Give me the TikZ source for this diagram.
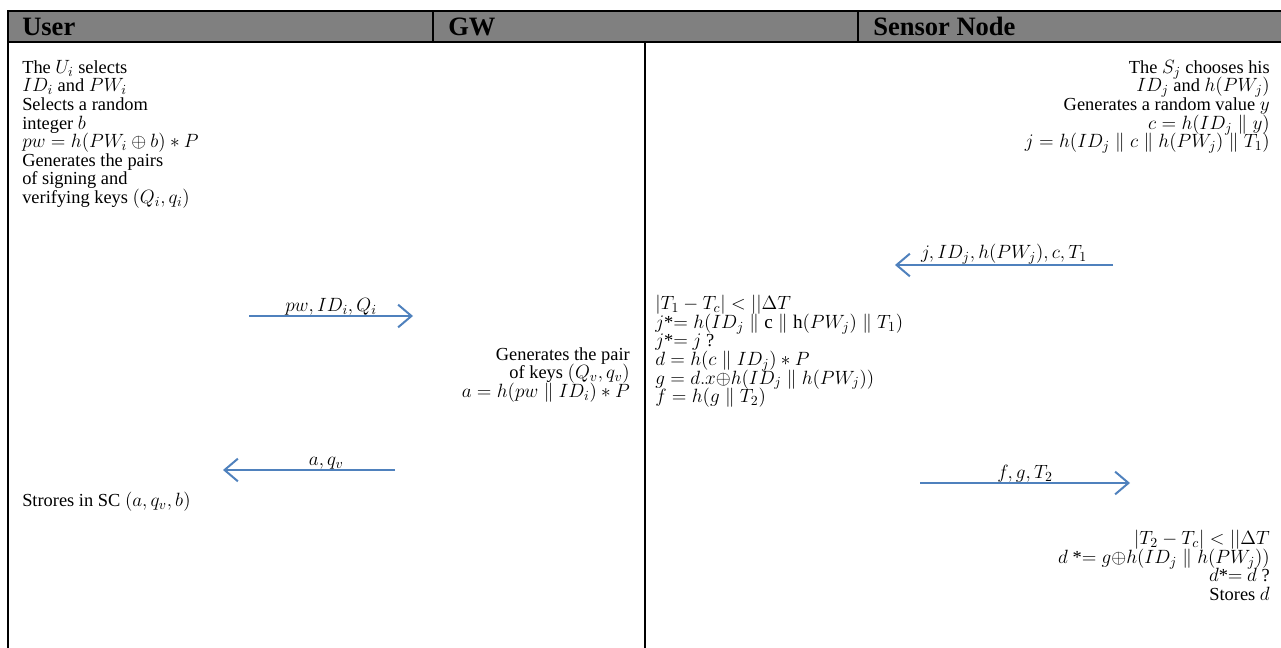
\RequirePackage{fix-cm}
\documentclass[tikz,border=0pt]{standalone}
\usepackage{amsmath}
\usepackage{fontspec}
\setmainfont{Liberation Serif}
\usetikzlibrary{arrows.meta}
\definecolor{msgblue}{HTML}{4F81BD}
\definecolor{headgray}{HTML}{808080}
\DeclareMathSizes{13.8}{14.4}{10.4}{8.2}
\newcommand\fixedlines{\lineskiplimit=-100pt\relax\lineskip=0pt\relax}

\begin{document}
\begin{tikzpicture}[x=0.75pt, y=-0.75pt,
      rule/.style={line width=1.2pt},
      head/.style={font=\fontsize{19.9}{22}\selectfont\bfseries,
          anchor=base west, inner sep=0pt},
      txt/.style={font=\fontsize{13.8}{13.95}\selectfont\fixedlines,
          inner sep=0pt},
      msg/.style={-{Straight Barb[length=10pt,width=17pt]},
          line width=1.5pt, draw=msgblue},
      lbl/.style={font=\fontsize{13.8}{13.95}\selectfont, inner sep=0pt},
    ]
    \useasboundingbox (0,0) rectangle (1281,648);

    %% --- Table frame ---
    \fill[headgray] (8,11) rectangle (1281,42);
    \draw[rule] (1281,11) -- (8,11) -- (8,648);
    \draw[rule] (8,42) -- (1281,42);
    \draw[rule] (433,11) -- (433,42);
    \draw[rule] (858,11) -- (858,42);
    \draw[rule] (645,42) -- (645,648);

    \node[head] (huser)   at (22,36)  {User};
    \node[head] (hgw)     at (448,36) {GW};
    \node[head] (hsensor) at (873,36) {Sensor Node};

    %% --- User side ---
    \node[txt, anchor=north west, align=left] (userreg) at (22,60)
    {The $U_i$ selects\\
      $ID_i$ and $PW_i$\\
      Selects a random\\
      integer $b$\\
      $pw = h(PW_i \oplus b) * P$\\
      Generates the pairs\\
      of signing and\\
      verifying keys $(Q_i, q_i)$};

    \node[txt, anchor=north east, align=right] (gwreg) at (630,347)
    {Generates the pair\\
      of keys $(Q_v, q_v)$\\
      $a = h(pw \parallel ID_i) * P$};

    \node[txt, anchor=north west] (userstore) at (22,492)
    {Strores in SC $(a, q_v, b)$};

    \coordinate (m1s) at (249,316);
    \coordinate (m1e) at (413,316);
    \coordinate (m2s) at (395,470);
    \coordinate (m2e) at (223,470);

    \draw[msg] (m1s) -- node[lbl, above] {$pw, ID_i, Q_i$} (m1e);
    \draw[msg] (m2s) -- node[lbl, above, pos=0.4] {$a, q_v$} (m2e);

    %% --- Sensor node side ---
    \node[txt, anchor=north east, align=right] (sensreg) at (1270,60)
    {The $S_j$ chooses his\\
      $ID_j$ and $h(PW_j)$\\
      Generates a random value $y$\\
      $c = h(ID_j \parallel y)$\\
      $j = h(ID_j \parallel c \parallel h(PW_j) \parallel T_1)$};

    \node[txt, anchor=north west, align=left] (gwcheck) at (655,295)
    {$|T_1 - T_c| < ||\Delta T$\\
      $j$*$= h(ID_j \parallel \mathrm{c} \parallel \mathrm{h}(PW_j) \parallel T_1)$\\
      $j$*$=$ $j$ ?\\
      $d = h(c \parallel ID_j) * P$\\
      $g = d.x{\oplus}h(ID_j \parallel h(PW_j))$\\
      $f = h(g \parallel T_2)$};

    \node[txt, anchor=north east, align=right] (sensstore) at (1270,530)
    {$|T_2 - T_c| < ||\Delta T$\\
      $d$ *$= g{\oplus}h(ID_j \parallel h(PW_j))$\\
      $d$*$=$ $d$ ?\\
      Stores $d$};

    \coordinate (m3s) at (1113,265);
    \coordinate (m3e) at (895,265);
    \coordinate (m4s) at (920,483);
    \coordinate (m4e) at (1130,483);

    \draw[msg] (m3s) -- node[lbl, above] {$j, ID_j, h(PW_j), c, T_1$} (m3e);
    \draw[msg] (m4s) -- node[lbl, above] {$f, g, T_2$} (m4e);

  \end{tikzpicture}
\end{document}
